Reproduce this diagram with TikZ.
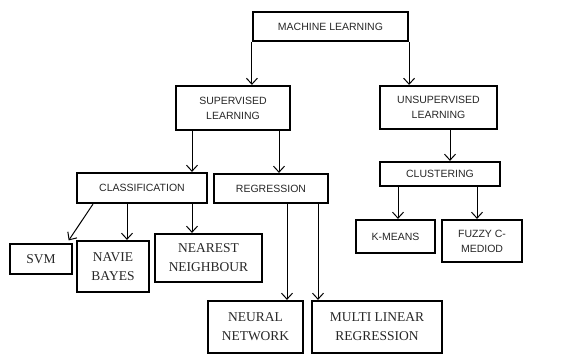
\documentclass[tikz,border=0pt]{standalone}
\usepackage{fontspec}
\setmainfont{Liberation Serif}
\setsansfont{Liberation Sans}
\usetikzlibrary{arrows.meta}
\begin{document}
\begin{tikzpicture}[x=1pt,y=-1pt,
  box/.style={draw, line width=2.2pt, inner sep=0pt, align=center, text=black!85},
  sbox/.style={box, font=\sffamily\fontsize{10.5}{15}\selectfont},
  rbox/.style={box, font=\rmfamily\fontsize{13.5}{19}\selectfont},
  arr/.style={line width=1pt, -{Straight Barb[length=6pt,width=11pt]}}]
\useasboundingbox (0,0) rectangle (568,354);
\node[sbox, minimum width=155pt, minimum height=29pt] (ml) at (330.5,26.5){MACHINE LEARNING};
\node[sbox, minimum width=114pt, minimum height=44pt] (sup) at (233,108){SUPERVISED\\LEARNING};
\node[sbox, minimum width=117pt, minimum height=43pt] (unsup) at (438.5,107.5){UNSUPERVISED\\LEARNING};
\draw[arr](ml.south west) -- (ml.south west |- sup.north);
\draw[arr](ml.south east) -- (ml.south east |- unsup.north);
\node[sbox, minimum width=130pt, minimum height=30pt] (class) at (142,188){CLASSIFICATION};
\node[sbox, minimum width=114pt, minimum height=29pt] (reg) at (271,188.5){REGRESSION};
\node[sbox, minimum width=120pt, minimum height=24pt] (clus) at (440,174){CLUSTERING};
\draw[arr]([xshift=-41pt]sup.south) -- ([xshift=-41pt]sup.south |- class.north);
\draw[arr]([xshift=46pt]sup.south) -- ([xshift=46pt]sup.south |- reg.north);
\draw[arr]([xshift=11.5pt]unsup.south) -- ([xshift=11.5pt]unsup.south |- clus.north);
\node[rbox, minimum width=62pt, minimum height=30pt] (svm) at (41,259){SVM};
\node[rbox, minimum width=72pt, minimum height=51pt] (nb) at (113,266.5){NAVIE\\BAYES};
\node[rbox, minimum width=107pt, minimum height=48pt] (nn) at (208.5,258){NEAREST\\NEIGHBOUR};
\draw[arr, shorten >=3pt]([xshift=-49pt]class.south) -- ([xshift=26pt]svm.north);
\draw[arr]([xshift=-15pt]class.south) -- ([xshift=-15pt]class.south |- nb.north);
\draw[arr]([xshift=50pt]class.south) -- ([xshift=50pt]class.south |- nn.north);
\node[rbox, minimum width=95pt, minimum height=52pt] (neural) at (255.5,327){NEURAL\\NETWORK};
\node[rbox, minimum width=130pt, minimum height=52pt] (multi) at (377,327){MULTI LINEAR\\REGRESSION};
\draw[arr]([xshift=16pt]reg.south) -- ([xshift=16pt]reg.south |- neural.north);
\draw[arr]([xshift=47pt]reg.south) -- ([xshift=47pt]reg.south |- multi.north);
\node[sbox, minimum width=79pt, minimum height=33pt] (km) at (395.5,236.5){K-MEANS};
\node[sbox, minimum width=80pt, minimum height=42pt] (fuzzy) at (482,241){FUZZY C-\\MEDIOD};
\draw[arr]([xshift=-42pt]clus.south) -- ([xshift=-42pt]clus.south |- km.north);
\draw[arr]([xshift=37pt]clus.south) -- ([xshift=37pt]clus.south |- fuzzy.north);
\end{tikzpicture}
\end{document}
